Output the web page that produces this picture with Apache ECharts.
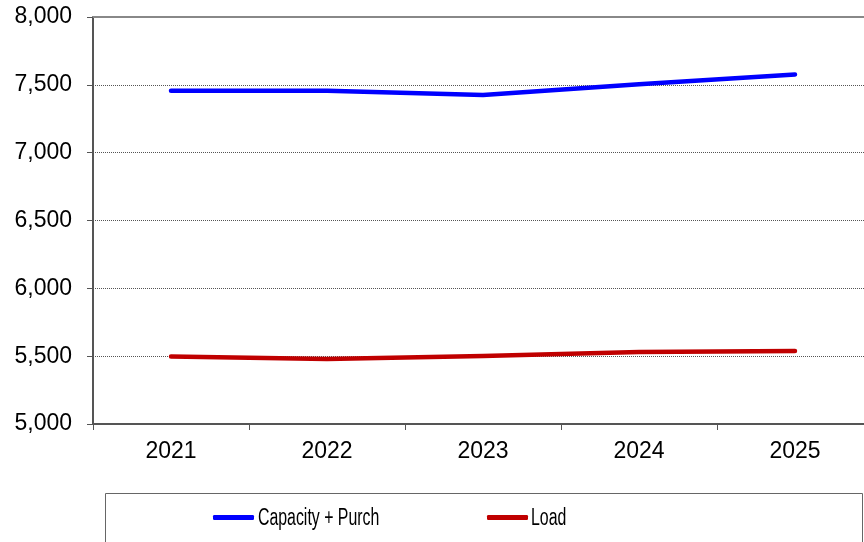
<!DOCTYPE html>
<html>
<head>
<meta charset="utf-8">
<script src="https://cdn.jsdelivr.net/npm/echarts@6/dist/echarts.min.js"></script>
<style>html,body{margin:0;padding:0;background:#fff}#c{width:864px;height:542px}</style>
</head>
<body>
<div id="c"></div>
<script>
var years = ['2021', '2022', '2023', '2024', '2025'];
var capacityPurch = [7457, 7457, 7425, 7505, 7577];
var load = [5497, 5479, 5502, 5530, 5538];
var seriesNames = ['Capacity + Purch', 'Load'];

var chart = echarts.init(document.getElementById('c'), null, {renderer: 'canvas'});
var font = 'Liberation Sans, Arial, sans-serif';
var legendCommon = {
  top: 510, itemWidth: 41, itemHeight: 5, icon: 'roundRect',
  formatter: function () { return ''; },
  textStyle: {fontFamily: font, fontSize: 21, color: '#000'}
};
function legendText(x, txt) {
  return {
    type: 'text', x: x, y: 519, scaleX: 0.69, z: 10,
    style: {text: txt, fill: '#000', font: '23px "Liberation Sans", Arial, sans-serif',
      verticalAlign: 'middle', textVerticalAlign: 'middle', align: 'left'}
  };
}
chart.setOption({
  animation: false,
  backgroundColor: '#fff',
  grid: {left: 93, width: 780, top: 17, bottom: 118, containLabel: false, outerBoundsMode: 'none'},
  graphic: [{
    type: 'rect', left: 105, top: 493,
    shape: {width: 757, height: 50},
    style: {fill: '#fff', stroke: '#666', lineWidth: 1}, z: 0
  }, legendText(258, seriesNames[0]), legendText(531, seriesNames[1])],
  legend: [
    Object.assign({left: 208, data: [seriesNames[0]]}, legendCommon),
    Object.assign({left: 482, data: [seriesNames[1]]}, legendCommon)
  ],
  xAxis: [{
    type: 'category', data: years, boundaryGap: true,
    axisLine: {lineStyle: {color: '#555', width: 2}},
    axisTick: {show: true, length: 6, lineStyle: {color: '#555', width: 1}},
    axisLabel: {fontFamily: font, fontSize: 23, color: '#000', margin: 16},
    splitLine: {show: false}
  }, {
    type: 'category', data: years, position: 'top', boundaryGap: true,
    axisLine: {show: true, lineStyle: {color: '#888', width: 2}},
    axisTick: {show: false}, axisLabel: {show: false}, splitLine: {show: false}
  }],
  yAxis: {
    type: 'value', min: 5000, max: 8000, interval: 500,
    axisLine: {show: true, lineStyle: {color: '#555', width: 2}},
    axisTick: {show: true, length: 6, lineStyle: {color: '#555', width: 1}},
    axisLabel: {fontFamily: font, fontSize: 23, color: '#000', margin: 21,
      formatter: function (v) { return v.toLocaleString('en-US'); }},
    splitLine: {show: true, lineStyle: {color: '#555', type: [1, 1], width: 1}}
  },
  series: [{
    name: seriesNames[0], type: 'line', data: capacityPurch,
    symbol: 'none', itemStyle: {color: '#0000ff'},
    lineStyle: {color: '#0000ff', width: 4.5, cap: 'round', join: 'round'}, z: 3
  }, {
    name: seriesNames[1], type: 'line', data: load,
    symbol: 'none', itemStyle: {color: '#c00000'},
    lineStyle: {color: '#c00000', width: 4.5, cap: 'round', join: 'round'}, z: 3
  }]
});
</script>
</body>
</html>
